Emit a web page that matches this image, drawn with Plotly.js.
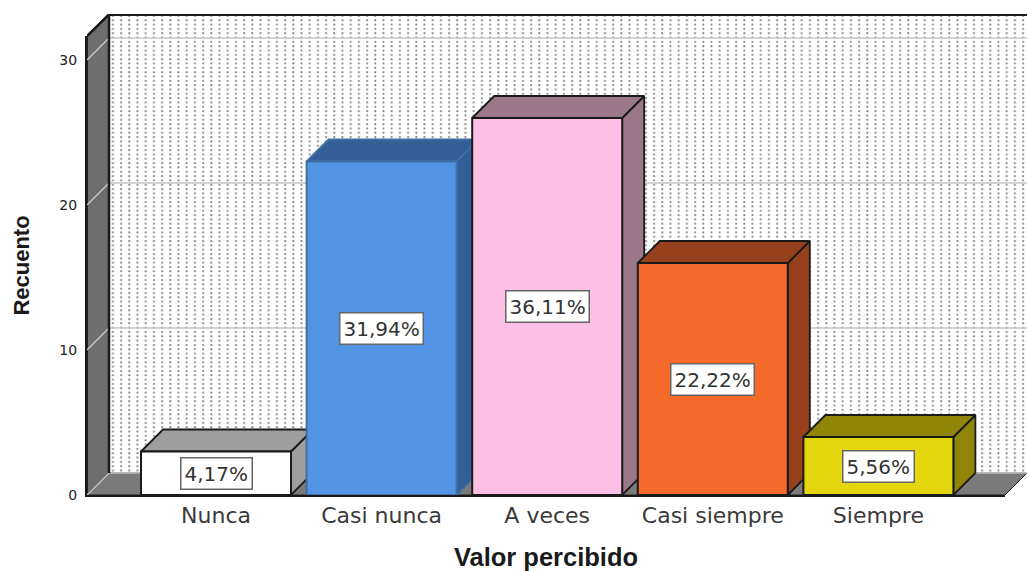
<!DOCTYPE html>
<html>
<head>
<meta charset="utf-8">
<script src="https://cdn.plot.ly/plotly-3.0.1.min.js"></script>
<style>html,body{margin:0;padding:0;background:#fff}#chart{width:1027px;height:571px}</style>
</head>
<body>
<div id="chart"></div>
<script>
const categories = ["Nunca", "Casi nunca", "A veces", "Casi siempre", "Siempre"];
const counts = [3, 23, 26, 16, 4];
const percentLabels = ["4,17%", "31,94%", "36,11%", "22,22%", "5,56%"];
const tickValues = [0, 10, 20, 30];
const tickLabels = ["0", "10", "20", "30"];

const frontColors = ["#ffffff", "#5294e3", "#fdbfe3", "#f5692b", "#e3d60d"];
const depthColors = ["#9e9e9e", "#325f96", "#9c7789", "#96401c", "#908507"];
const edgeColors = ["#1a1a1a", "#3f6ea5", "#1a1a1a", "#1a1a1a", "#1a1a1a"];

// Geometry of the pseudo-3D frame, in pixels of the page
const W = 1027, H = 571, L = 87, T = 14, B = 495, FRONT_R = 1005, DEPTH = 22;
const PX_PER_CAT = 165.6, PX_PER_UNIT = 14.5, CENTER0 = 216;
const BAR_W = 150 / PX_PER_CAT;
const dx = DEPTH / PX_PER_CAT, dy = DEPTH / PX_PER_UNIT;
const xMin = (L - CENTER0) / PX_PER_CAT;
const xMaxFull = (W - CENTER0) / PX_PER_CAT;
const xMaxFront = (FRONT_R - CENTER0) / PX_PER_CAT;
const yMaxFull = (B - T) / PX_PER_UNIT;
const yMaxFront = yMaxFull - dy;

function poly(xs, ys, fill, line, lw) {
  return {type: "scatter", mode: "lines", x: xs.concat(xs[0]), y: ys.concat(ys[0]), fill: "toself",
    fillcolor: fill, line: {color: line, width: lw === undefined ? 1.8 : lw}, hoverinfo: "skip", showlegend: false, xaxis: "x", yaxis: "y"};
}
const traces = [];
traces.push(poly([xMin, xMin + dx, xMin + dx, xMin], [yMaxFront, yMaxFull, dy, 0], "#6e6e6e", "#1a1a1a"));
traces.push(poly([xMin, xMin + dx, xMaxFull, xMaxFront], [0, dy, dy, 0], "#7a7a7a", "#1a1a1a", 1));
tickValues.forEach(v => {
  traces.push({type: "scatter", mode: "lines", x: [xMin, xMin + dx, xMaxFull], y: [v, v + dy, v + dy],
    line: {color: "#c6c6c6", width: 1.5}, hoverinfo: "skip", showlegend: false, xaxis: "x", yaxis: "y"});
});
traces.push({type: "scatter", mode: "lines", x: [xMin, xMin + dx, xMaxFull], y: [yMaxFront, yMaxFull - 0.05, yMaxFull - 0.05],
  line: {color: "#1a1a1a", width: 2.5}, hoverinfo: "skip", showlegend: false, xaxis: "x", yaxis: "y"});
traces.push({type: "scatter", mode: "lines", x: [xMin + dx, xMin + dx], y: [dy, yMaxFull],
  line: {color: "#1a1a1a", width: 2.5}, hoverinfo: "skip", showlegend: false, xaxis: "x", yaxis: "y"});
counts.forEach((v, i) => {
  const l = i - BAR_W / 2, r = i + BAR_W / 2;
  traces.push(poly([r, r, r + dx, r + dx], [0, v, v + dy, dy], depthColors[i], edgeColors[i]));
  traces.push(poly([l, r, r + dx, l + dx], [v, v, v + dy, v + dy], depthColors[i], edgeColors[i]));
});
traces.push({type: "bar", x: categories, y: counts, width: BAR_W, xaxis: "x2", yaxis: "y2",
  marker: {color: frontColors, line: {color: edgeColors, width: 2}}, hoverinfo: "x+y", showlegend: false});

const wallW = W - L - DEPTH, wallH = B - DEPTH - T;
const svg = `<svg xmlns="http://www.w3.org/2000/svg" width="${wallW}" height="${wallH}"><defs><pattern id="p" width="8.2" height="4.33" patternUnits="userSpaceOnUse"><rect x="3" y="1" width="1.8" height="1.8" fill="#7a7a7a"/></pattern></defs><rect width="100%" height="100%" fill="#fff"/><rect width="100%" height="100%" fill="url(#p)"/></svg>`;
const wallSrc = "data:image/svg+xml;base64," + btoa(svg);

const font = "'Liberation Sans', Arial, sans-serif";
const wide = "'DejaVu Sans', Verdana, sans-serif";
const layout = {
  width: W, height: H, margin: {l: L, r: 0, t: T, b: H - B}, autosize: false,
  paper_bgcolor: "#fff", plot_bgcolor: "rgba(0,0,0,0)", showlegend: false, bargap: 0,
  xaxis: {domain: [0, 1], range: [xMin, xMaxFull], visible: false, fixedrange: true},
  yaxis: {domain: [0, 1], range: [0, yMaxFull], visible: false, fixedrange: true},
  xaxis2: {domain: [0, (FRONT_R - L) / (W - L)], range: [xMin, xMaxFront], anchor: "y2", type: "category",
    categoryorder: "array", categoryarray: categories, showgrid: false, zeroline: false, ticks: "",
    showline: true, linecolor: "#1a1a1a", linewidth: 2, ticklabelstandoff: 0,
    tickfont: {family: wide, size: 22, color: "#3a3a3a"},
    title: {text: "Valor percibido", standoff: 26, font: {family: font, size: 25.5, color: "#1a1a1a", weight: 700}}},
  yaxis2: {domain: [0, (B - (T + DEPTH)) / (B - T)], range: [0, yMaxFront], anchor: "x2", tickmode: "array",
    tickvals: tickValues, ticktext: tickLabels, showgrid: false, zeroline: false, ticks: "",
    showline: true, linecolor: "#1a1a1a", linewidth: 2, ticklabelstandoff: 5,
    tickfont: {family: wide, size: 14, color: "#222"},
    title: {text: "Recuento", standoff: 24, font: {family: font, size: 22, color: "#1a1a1a", weight: 700}}},
  images: [{source: wallSrc, xref: "x", yref: "y", x: xMin + dx, y: yMaxFull, sizex: xMaxFull - xMin - dx, sizey: yMaxFull - dy,
    xanchor: "left", yanchor: "top", sizing: "stretch", layer: "below"}],
  annotations: counts.map((v, i) => ({
    xref: "x2", yref: "y2", x: categories[i], y: v / 2, text: percentLabels[i], showarrow: false,
    font: {family: wide, size: 20, color: "#333"}, bgcolor: "#fff", bordercolor: "#666", borderwidth: 1.5, borderpad: 3
  }))
};
Plotly.newPlot("chart", traces, layout, {displayModeBar: false, staticPlot: true});
</script>
</body>
</html>
